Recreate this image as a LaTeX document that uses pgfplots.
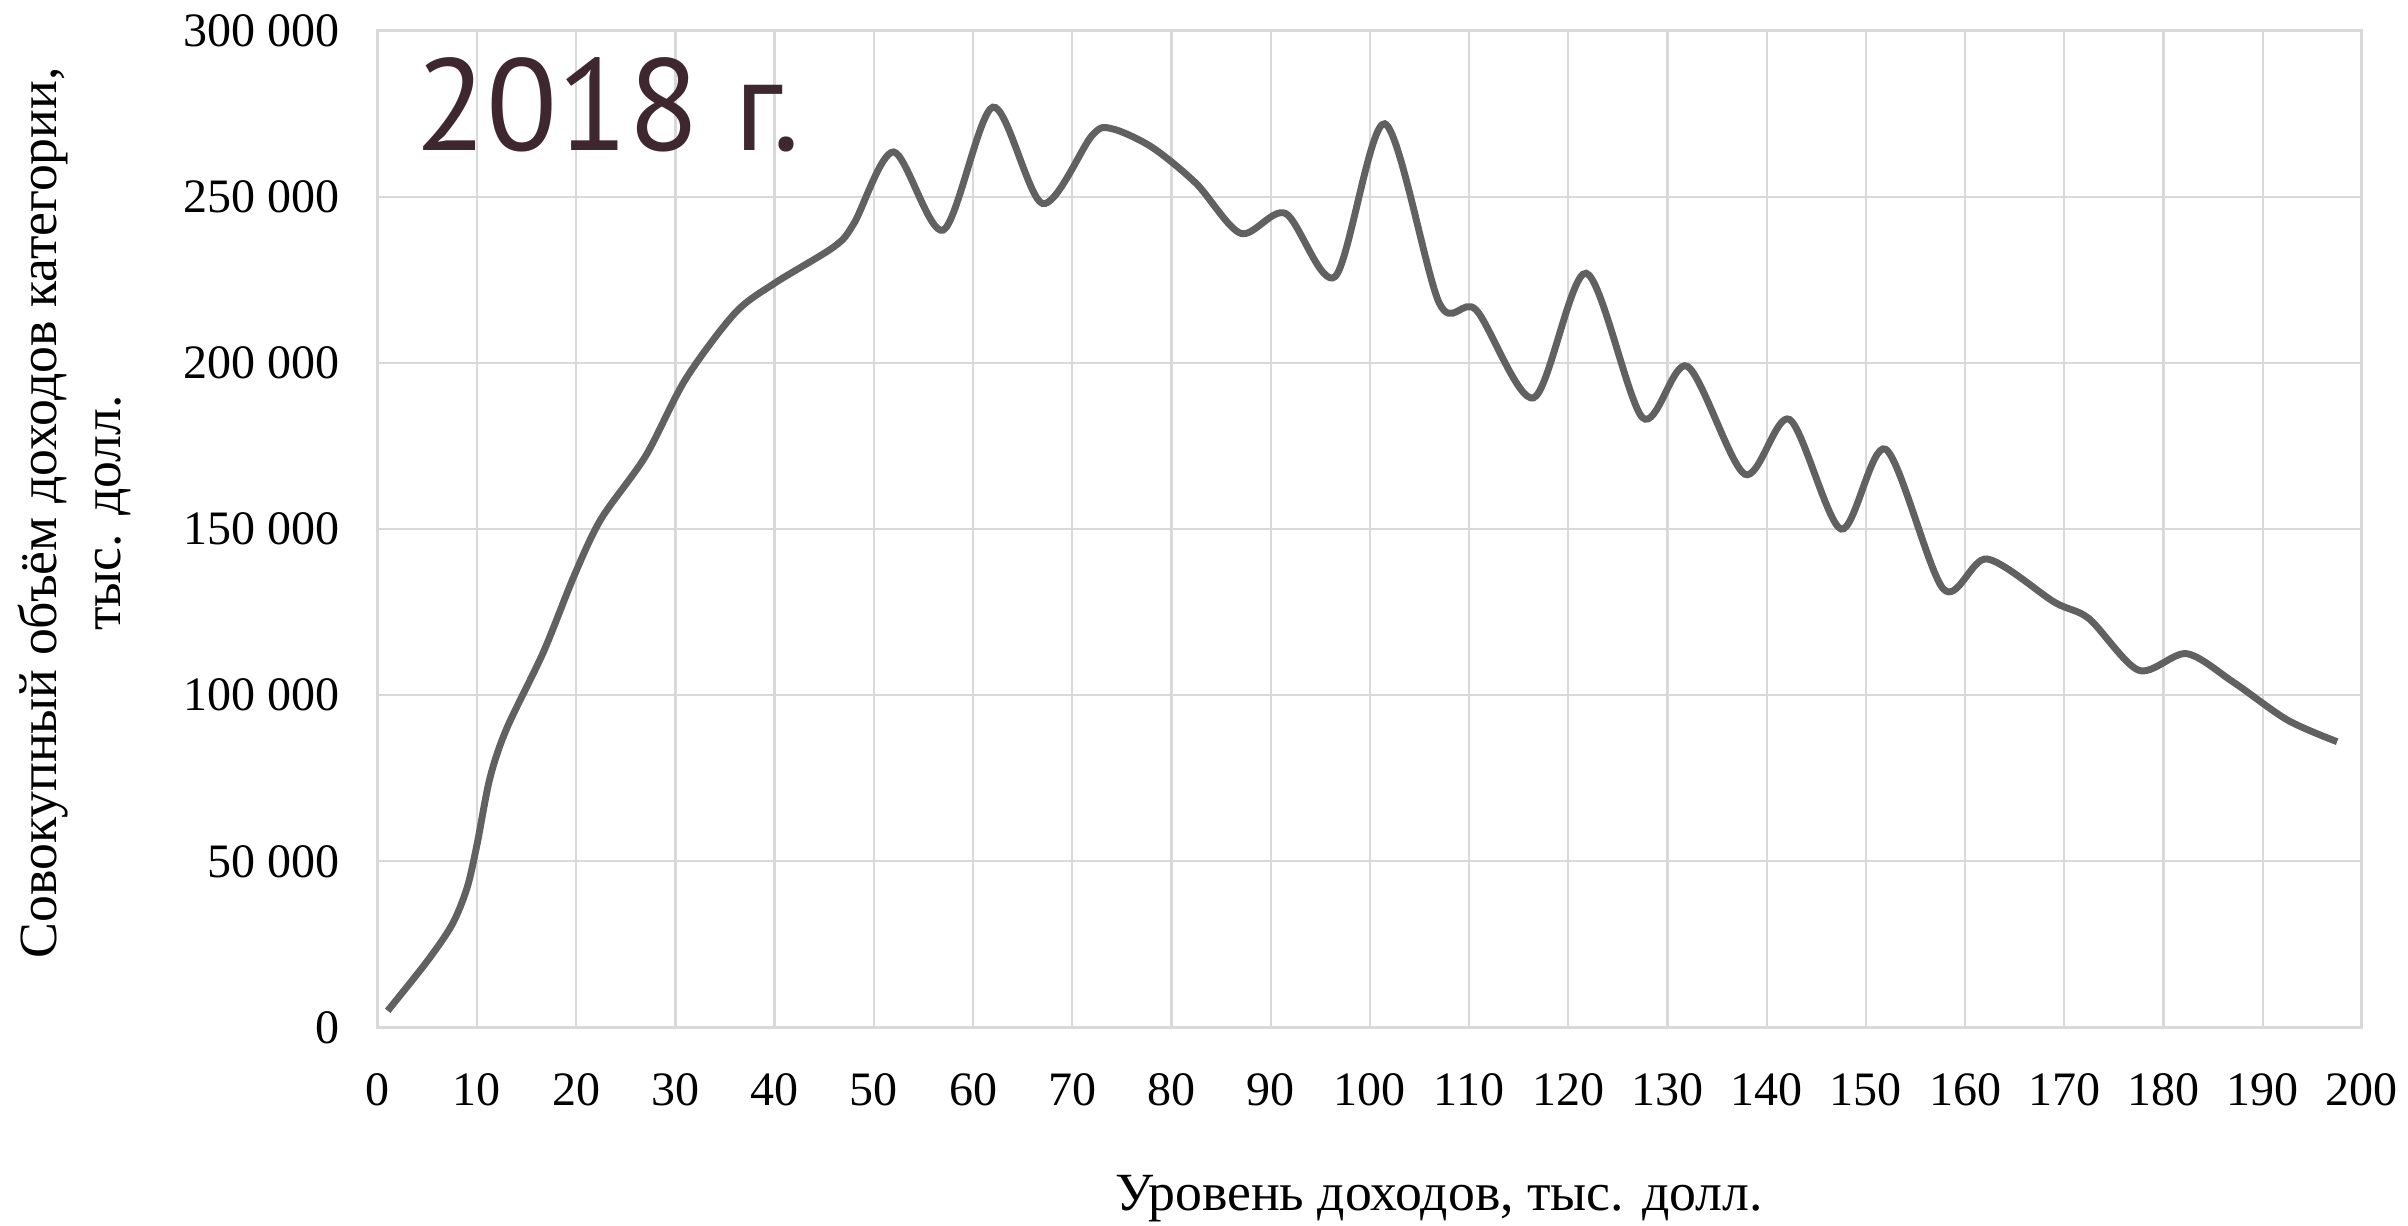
\documentclass[border=0pt]{standalone}
\usepackage{fontspec}
\setmainfont{Liberation Serif}
\newfontfamily\titlefont{PT Sans}
\usepackage{pgfplots}
\usepackage{pgfplotstable}
\pgfplotsset{compat=1.18}

\definecolor{gridgray}{HTML}{D9D9D9}
\definecolor{linegray}{HTML}{616161}
\definecolor{titlecol}{HTML}{3F2730}

% income level (thousand USD) vs total income of the category
\pgfplotstableread{
x      y
1.0    5000
5.0    20000
7.5    31000
9.0    42000
10.0   55000
11.3   75000
13.0   90000
16.7   113000
19.8   136000
22.5   153000
27.0   172000
31.0   195000
36.0   215000
40.0   224000
46.0   235000
48.0   242000
52.0   263500
57.0   240000
62.0   277000
67.0   248000
72.0   268500
74.0   270500
78.0   265000
82.5   254000
87.0   239000
91.5   245000
96.5   226000
101.5  272000
107.0  218000
110.7  216000
116.5  189500
121.8  227000
127.5  183500
132.0  199000
137.8  166500
142.3  183000
147.5  150000
152.0  174000
157.8  132000
162.2  141000
169.0  128000
172.5  123000
177.5  107500
182.3  112500
187.0  104000
192.5  92500
197.5  86000
}\income

\begin{document}
\begin{tikzpicture}
\useasboundingbox (-98.4pt,-51.6pt) rectangle (528.8pt,267.6pt);
\begin{axis}[
  scale only axis,
  width=516.8pt, height=259.6pt,
  xmin=0, xmax=200, ymin=0, ymax=300000,
  xtick={0,10,...,200},
  ytick={0,50000,100000,150000,200000,250000,300000},
  yticklabels={0,50 000,100 000,150 000,200 000,250 000,300 000},
  scaled y ticks=false,
  grid=major,
  major grid style={draw=gridgray, line width=0.6pt},
  axis line style={draw=gridgray, line width=0.8pt},
  tick style={draw=none},
  /pgf/number format/assume math mode=true,
  tick label style={font=\fontsize{12.5}{14}\selectfont},
  xticklabel style={yshift=-8.5pt},
  yticklabel style={xshift=-6.5pt},
]
\addplot[linegray, line width=1.8pt, smooth] table[x=x, y=y] {\income};
\end{axis}
\node[anchor=base west, inner sep=0pt, text=titlecol, font=\titlefont\fontsize{34}{38}\selectfont] at (9.6pt,228.4pt) {2018 г.};
\node[anchor=base, inner sep=0pt, font=\fontsize{14}{16}\selectfont] at (276.4pt,-47.6pt) {Уровень доходов, тыс. долл.};
\node[rotate=90, align=center, inner sep=0pt, font=\fontsize{14}{16.5}\selectfont] at (-79pt,134pt) {Совокупный объём доходов категории,\\тыс. долл.};
\end{tikzpicture}
\end{document}
